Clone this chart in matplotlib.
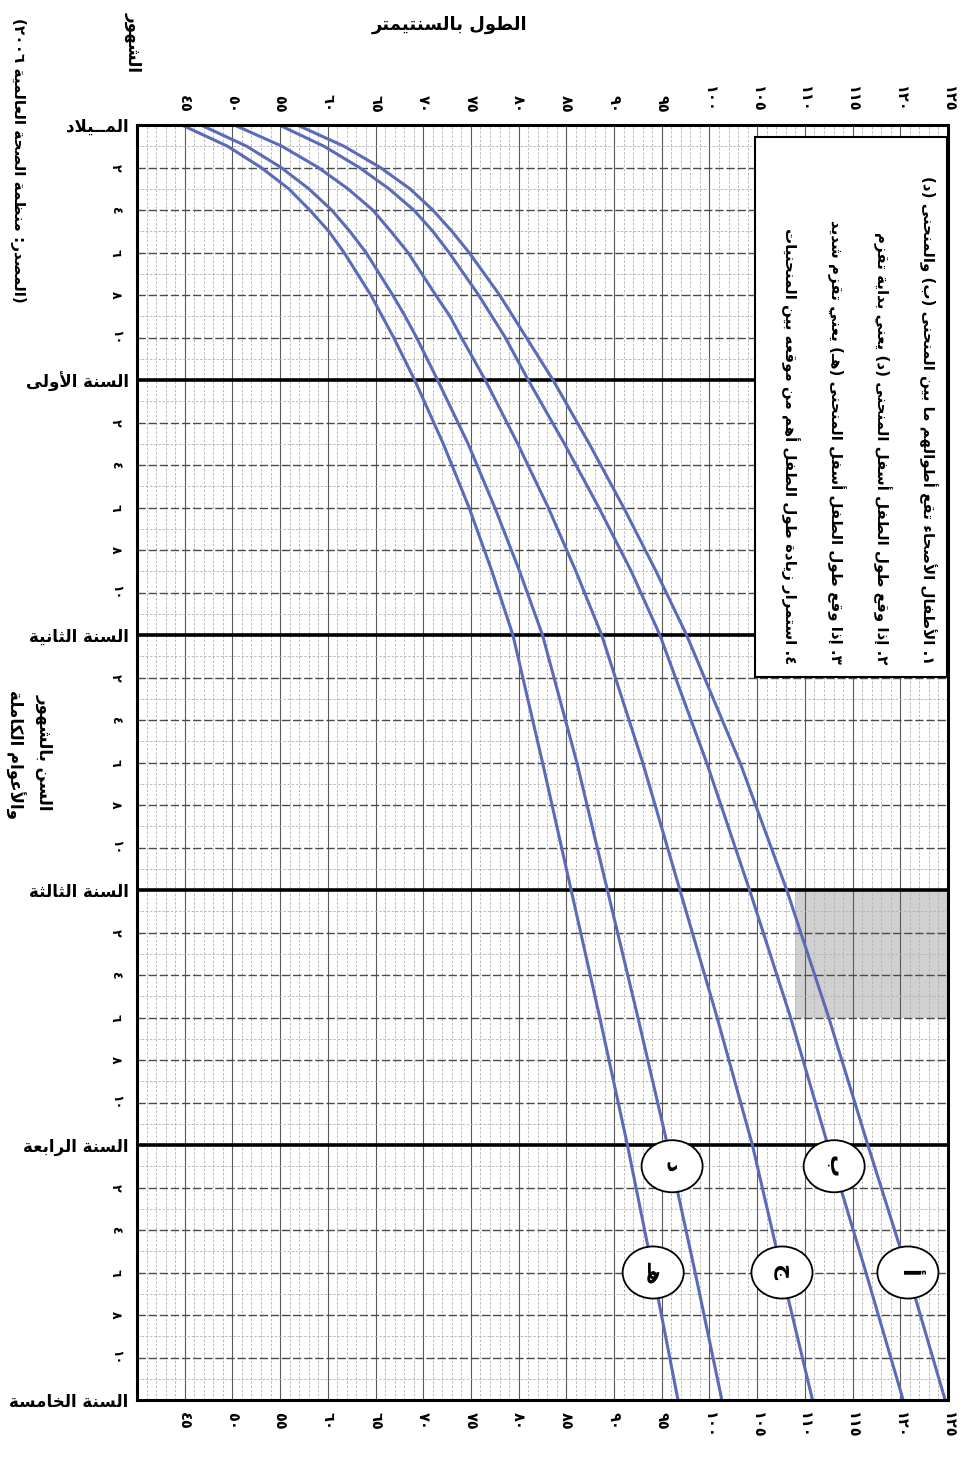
import re
import numpy as np
import matplotlib
matplotlib.use("Agg")
import matplotlib.pyplot as plt
from matplotlib.patches import Ellipse, Rectangle

# ---------------- data ----------------
months = [0, 1, 2, 3, 4, 5, 6, 8, 9, 10, 12, 15, 18, 21, 24, 30, 36, 42, 48, 54, 60]
curve_a = [56.8, 61.7, 65.5, 68.6, 71.0, 73.0, 74.8, 78.0, 79.4, 80.8, 83.6, 87.4, 91.0, 94.4, 97.6, 103.2, 108.1, 112.5, 116.6, 120.8, 124.7]
curve_b = [54.9, 59.6, 63.3, 66.4, 69.0, 71.0, 72.7, 75.8, 77.2, 78.6, 81.0, 84.8, 88.4, 91.8, 94.8, 99.7, 104.2, 108.5, 112.4, 116.4, 120.3]
curve_j = [50.2, 55.2, 59.0, 62.1, 64.7, 66.6, 68.4, 71.3, 72.8, 74.0, 76.5, 79.9, 83.1, 86.0, 88.7, 93.0, 96.9, 100.8, 104.5, 107.6, 110.8]
curve_d = [46.7, 51.5, 55.1, 58.0, 60.4, 62.3, 64.0, 66.8, 68.1, 69.3, 71.5, 74.7, 77.5, 80.1, 82.5, 86.1, 89.3, 92.5, 95.6, 98.5, 101.3]
curve_h = [44.7, 49.5, 53.0, 55.9, 58.1, 60.1, 61.7, 64.5, 65.7, 66.9, 69.1, 72.1, 74.8, 77.2, 79.4, 82.5, 85.5, 88.5, 91.4, 94.1, 96.7]
curve_names = ["أ", "ب", "ج", "د", "هـ"]
label_months = [54, 49, 54, 49, 54]
length_ticks = list(range(45, 130, 5))
year_labels = ["المــيلاد", "السنة الأولى", "السنة الثانية", "السنة الثالثة",
               "السنة الرابعة", "السنة الخامسة"]
month_ticks = [2, 4, 6, 8, 10]
note_lines = [
    "١. الأطفال الأصحاء تقع أطوالهم ما بين المنحنى (ب) والمنحنى (د)",
    "٢. إذا وقع طول الطفل أسفل المنحنى (د) يعني بداية تقزم",
    "٣. إذا وقع طول الطفل أسفل المنحنى (هـ) يعني تقزم شديد",
    "٤. استمرار زيادة طول الطفل أهم من موقعه بين المنحنيات",
]
title = "الطول بالسنتيمتر"
months_word = "الشهور"
age_label = ["السن بالشهور", "والأعوام الكاملة"]
source = "(المصدر: منظمة الصحة العالمية ٢٠٠٦)"
shade_x = (109, 125)
shade_y = (36, 42)

# ---------------- Arabic shaping (presentation forms + visual order) ----------------
F = {
    '\u0621': ('\uFE80', None, None, None),
    '\u0622': ('\uFE81', '\uFE82', None, None),
    '\u0623': ('\uFE83', '\uFE84', None, None),
    '\u0624': ('\uFE85', '\uFE86', None, None),
    '\u0625': ('\uFE87', '\uFE88', None, None),
    '\u0626': ('\uFE89', '\uFE8A', '\uFE8B', '\uFE8C'),
    '\u0627': ('\uFE8D', '\uFE8E', None, None),
    '\u0628': ('\uFE8F', '\uFE90', '\uFE91', '\uFE92'),
    '\u0629': ('\uFE93', '\uFE94', None, None),
    '\u062A': ('\uFE95', '\uFE96', '\uFE97', '\uFE98'),
    '\u062B': ('\uFE99', '\uFE9A', '\uFE9B', '\uFE9C'),
    '\u062C': ('\uFE9D', '\uFE9E', '\uFE9F', '\uFEA0'),
    '\u062D': ('\uFEA1', '\uFEA2', '\uFEA3', '\uFEA4'),
    '\u062E': ('\uFEA5', '\uFEA6', '\uFEA7', '\uFEA8'),
    '\u062F': ('\uFEA9', '\uFEAA', None, None),
    '\u0630': ('\uFEAB', '\uFEAC', None, None),
    '\u0631': ('\uFEAD', '\uFEAE', None, None),
    '\u0632': ('\uFEAF', '\uFEB0', None, None),
    '\u0633': ('\uFEB1', '\uFEB2', '\uFEB3', '\uFEB4'),
    '\u0634': ('\uFEB5', '\uFEB6', '\uFEB7', '\uFEB8'),
    '\u0635': ('\uFEB9', '\uFEBA', '\uFEBB', '\uFEBC'),
    '\u0636': ('\uFEBD', '\uFEBE', '\uFEBF', '\uFEC0'),
    '\u0637': ('\uFEC1', '\uFEC2', '\uFEC3', '\uFEC4'),
    '\u0638': ('\uFEC5', '\uFEC6', '\uFEC7', '\uFEC8'),
    '\u0639': ('\uFEC9', '\uFECA', '\uFECB', '\uFECC'),
    '\u063A': ('\uFECD', '\uFECE', '\uFECF', '\uFED0'),
    '\u0641': ('\uFED1', '\uFED2', '\uFED3', '\uFED4'),
    '\u0642': ('\uFED5', '\uFED6', '\uFED7', '\uFED8'),
    '\u0643': ('\uFED9', '\uFEDA', '\uFEDB', '\uFEDC'),
    '\u0644': ('\uFEDD', '\uFEDE', '\uFEDF', '\uFEE0'),
    '\u0645': ('\uFEE1', '\uFEE2', '\uFEE3', '\uFEE4'),
    '\u0646': ('\uFEE5', '\uFEE6', '\uFEE7', '\uFEE8'),
    '\u0647': ('\uFEE9', '\uFEEA', '\uFEEB', '\uFEEC'),
    '\u0648': ('\uFEED', '\uFEEE', None, None),
    '\u0649': ('\uFEEF', '\uFEF0', None, None),
    '\u064A': ('\uFEF1', '\uFEF2', '\uFEF3', '\uFEF4'),
}
TAT = '\u0640'
LAMALEF = {'\u0627': ('\uFEFB', '\uFEFC'), '\u0623': ('\uFEF7', '\uFEF8'),
           '\u0625': ('\uFEF9', '\uFEFA'), '\u0622': ('\uFEF5', '\uFEF6')}


def _dual(c):
    return c == TAT or (c in F and F[c][2] is not None)


def _joins(c):
    return c == TAT or (c in F and F[c][1] is not None)


def shape(s):
    out = []
    i = 0
    n = len(s)
    while i < n:
        c = s[i]
        if c not in F:
            out.append(c)
            i += 1
            continue
        prev = s[i - 1] if i > 0 else ''
        jp = _dual(prev) and _joins(c)
        if c == '\u0644' and i + 1 < n and s[i + 1] in LAMALEF:
            out.append(LAMALEF[s[i + 1]][1 if jp else 0])
            i += 2
            continue
        nxt = s[i + 1] if i + 1 < n else ''
        jn = _dual(c) and _joins(nxt)
        iso, fin, ini, med = F[c]
        if jp and jn:
            g = med
        elif jp:
            g = fin
        elif jn:
            g = ini
        else:
            g = iso
        out.append(g)
        i += 1
    shaped = ''.join(out)
    toks = re.findall(r'[0-9\u0660-\u0669]+|.', shaped, flags=re.S)
    toks = toks[::-1]
    mirror = {'(': ')', ')': '('}
    toks = [mirror.get(t, t) for t in toks]
    return ''.join(toks)


AR_DIG = str.maketrans('0123456789', '٠١٢٣٤٥٦٧٨٩')


def ar_num(v):
    return str(v).translate(AR_DIG)


# ---------------- figure ----------------
plt.rcParams['font.family'] = ['DejaVu Sans']
W, H = 973, 1465
fig = plt.figure(figsize=(W / 100, H / 100), dpi=100)
ax = fig.add_axes([137 / W, 1 - 1400 / H, (948 - 137) / W, (1400 - 125) / H])
ax.set_xlim(40, 125)
ax.set_ylim(60, 0)


def px2data_x(px):
    return 40 + (px - 137) / (948 - 137) * 85


def px2data_y(py):
    return (py - 125) / (1400 - 125) * 60


# grid
for v in range(41, 125):
    if v % 5 == 0:
        ax.axvline(v, color='#5a5a5a', lw=0.8, zorder=1)
    else:
        ax.axvline(v, color='#b0b0b0', lw=0.6, ls=(0, (3, 2)), zorder=1)
for m in range(1, 60):
    if m % 12 == 0:
        ax.axhline(m, color='black', lw=2.6, zorder=3)
    elif m % 2 == 0:
        ax.axhline(m, color='#4a4a4a', lw=1.0, ls=(0, (6, 2)), zorder=1)
    else:
        ax.axhline(m, color='#b0b0b0', lw=0.6, ls=(0, (3, 2)), zorder=1)

# shaded area
ax.add_patch(Rectangle((shade_x[0], shade_y[0]), shade_x[1] - shade_x[0],
                       shade_y[1] - shade_y[0], facecolor='#c8c8c8',
                       edgecolor='none', alpha=0.85, zorder=0.5))

# curves
curves = [curve_a, curve_b, curve_j, curve_d, curve_h]
for cv in curves:
    ax.plot(cv, months, color='#5b6bb7', lw=2.2, zorder=4,
            solid_joinstyle='round')

# curve labels
for cv, name, lm in zip(curves, curve_names, label_months):
    xc = np.interp(lm, months, cv)
    ax.add_patch(Ellipse((xc, lm), 6.4, 2.45, facecolor='white',
                         edgecolor='black', lw=1.3, zorder=5))
    ax.text(xc, lm, shape(name), rotation=-90, ha='center', va='center',
            fontsize=16, fontweight='bold', zorder=6)

# note box
bx0, bx1 = px2data_x(755), px2data_x(947)
by0, by1 = px2data_y(137), px2data_y(677)
ax.add_patch(Rectangle((bx0, by0), bx1 - bx0, by1 - by0, facecolor='white',
                       edgecolor='black', lw=1.5, zorder=4))
for k, line in enumerate(note_lines):
    ax.text(px2data_x(928 - 46 * k), px2data_y(664), shape(line), rotation=-90,
            ha='center', va='bottom', fontsize=10.8, fontweight='bold', zorder=5)

# frame
for sp in ax.spines.values():
    sp.set_linewidth(2.2)
    sp.set_zorder(6)

# x ticks (top and bottom)
ax.set_xticks(length_ticks)
ax.set_xticklabels([ar_num(v) for v in length_ticks])
ax.tick_params(axis='x', which='both', top=True, labeltop=True, bottom=True,
               labelbottom=True, length=0, labelrotation=-90, labelsize=10.5,
               pad=9)
for lab in ax.get_xticklabels():
    lab.set_fontweight('bold')

# y ticks: years (major) and months (minor)
ax.set_yticks([0, 12, 24, 36, 48, 60])
ax.set_yticklabels([shape(s) for s in year_labels])
minor = [12 * y + m for y in range(5) for m in month_ticks]
ax.set_yticks(minor, minor=True)
ax.set_yticklabels([ar_num(m) for y in range(5) for m in month_ticks], minor=True)
ax.tick_params(axis='y', which='major', length=0, labelsize=12, pad=6)
ax.tick_params(axis='y', which='minor', length=0, labelsize=9, pad=11,
               labelrotation=-90)
for lab in ax.get_yticklabels(which='both'):
    lab.set_fontweight('bold')
for lab in ax.get_yticklabels(minor=True):
    lab.set_verticalalignment('center')

# other texts
fig.text(450 / W, 1 - 25 / H, shape(title), ha='center', va='center',
         fontsize=13, fontweight='bold')
fig.text(134 / W, 1 - 42 / H, shape(months_word), rotation=-90, ha='center',
         va='center', fontsize=12, fontweight='bold')
fig.text(45 / W, 1 - 752 / H, shape(age_label[0]), rotation=-90, ha='center',
         va='center', fontsize=12, fontweight='bold')
fig.text(15 / W, 1 - 755 / H, shape(age_label[1]), rotation=-90, ha='center',
         va='center', fontsize=12, fontweight='bold')
fig.text(18 / W, 1 - 160 / H, shape(source), rotation=-90, ha='center',
         va='center', fontsize=11, fontweight='bold')

fig.savefig('out.png', dpi=100, facecolor='white')
